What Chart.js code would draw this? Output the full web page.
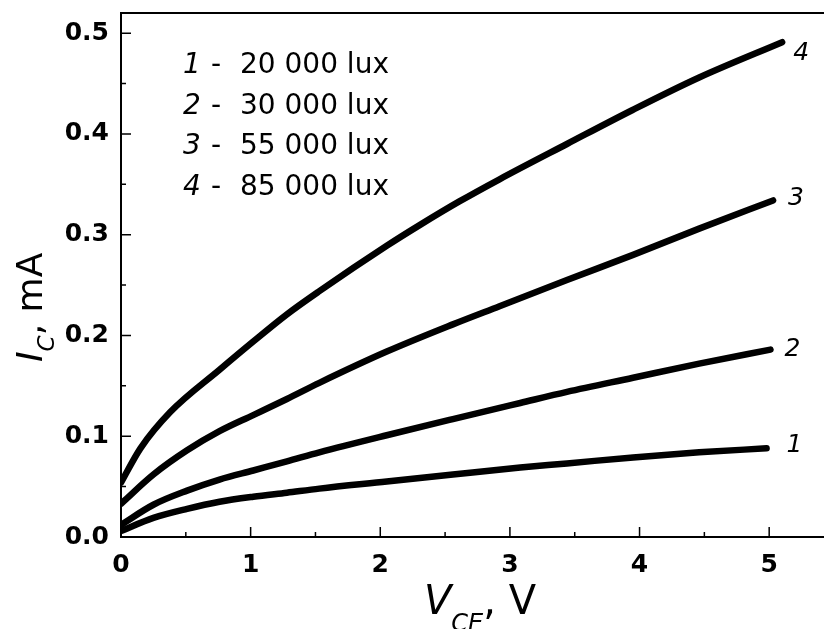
<!DOCTYPE html>
<html>
<head>
<meta charset="utf-8">
<script src="https://cdn.jsdelivr.net/npm/chart.js@4.4.1/dist/chart.umd.min.js"></script>
<style>
    html, body { margin: 0; padding: 0; overflow: hidden; background: #fff; }
</style>
</head>
<body>
<canvas id="ivChart" width="850" height="629"></canvas>
<script>
// curve numbers and the illuminance legend
const curveNames = ['1', '2', '3', '4'];
const luxLabels = ['20 000 lux', '30 000 lux', '55 000 lux', '85 000 lux'];

// V_CE (V) and I_C (mA)
const vce1 = [0, 0.25, 0.51, 0.76, 1.02, 1.28, 1.53, 2.05, 2.56, 3.08, 3.44, 3.95, 4.46, 4.98];
const ic1 = [0.006, 0.019, 0.028, 0.035, 0.040, 0.044, 0.048, 0.055, 0.062, 0.069, 0.073, 0.079, 0.084, 0.088];

const vce2 = [0, 0.25, 0.51, 0.76, 1.02, 1.28, 1.53, 2.05, 2.56, 3.08, 3.44, 3.95, 4.46, 5.01];
const ic2 = [0.012, 0.032, 0.046, 0.057, 0.066, 0.075, 0.084, 0.101, 0.117, 0.133, 0.144, 0.158, 0.172, 0.186];

const vce3 = [0, 0.25, 0.51, 0.76, 1.02, 1.28, 1.53, 2.05, 2.56, 2.92, 3.44, 3.95, 4.46, 5.03];
const ic3 = [0.033, 0.062, 0.086, 0.105, 0.121, 0.137, 0.153, 0.184, 0.211, 0.229, 0.255, 0.280, 0.306, 0.334];

const vce4 = [0, 0.15, 0.38, 0.76, 1.02, 1.28, 1.53, 2.05, 2.31, 2.61, 2.92, 3.44, 3.95, 4.46, 5.10];
const ic4 = [0.054, 0.088, 0.124, 0.166, 0.194, 0.221, 0.244, 0.289, 0.310, 0.333, 0.355, 0.390, 0.424, 0.456, 0.491];

// axis ranges and tick steps (major / minor)
const xRange = [0, 5.5];
const yRange = [0, 0.52];
const xSteps = [1, 0.5];
const ySteps = [0.1, 0.05];

const FONT = "'DejaVu Sans', sans-serif";

function toPoints(xs, ys) {
    return xs.map((v, i) => ({ x: v, y: ys[i] }));
}

function isMajor(value, step) {
    const r = value / step;
    return Math.abs(r - Math.round(r)) < 1e-6;
}

// frame round the plot and inward tick marks
const frameTicks = {
    id: 'frameTicks',
    afterDraw(chart) {
        const ctx = chart.ctx;
        const a = chart.chartArea;
        const x = chart.scales.x;
        const y = chart.scales.y;
        ctx.save();
        ctx.strokeStyle = '#000';
        ctx.lineWidth = 2;
        ctx.strokeRect(a.left, a.top, a.right - a.left, a.bottom - a.top);
        ctx.lineWidth = 1.5;
        ctx.beginPath();
        x.ticks.forEach(t => {
            const px = x.getPixelForValue(t.value);
            const len = isMajor(t.value, xSteps[0]) ? 10 : 5;
            ctx.moveTo(px, a.bottom);
            ctx.lineTo(px, a.bottom - len);
        });
        y.ticks.forEach(t => {
            const py = y.getPixelForValue(t.value);
            const len = isMajor(t.value, ySteps[0]) ? 10 : 5;
            ctx.moveTo(a.left, py);
            ctx.lineTo(a.left + len, py);
        });
        ctx.stroke();
        ctx.restore();
    }
};

// axis titles with italic symbols and subscripts
function drawRun(ctx, parts) {
    let cx = 0;
    parts.forEach(p => {
        ctx.font = p.font;
        ctx.fillText(p.text, cx, p.dy || 0);
        cx += ctx.measureText(p.text).width;
    });
}

const axisTitles = {
    id: 'axisTitles',
    afterDraw(chart) {
        const ctx = chart.ctx;
        const a = chart.chartArea;
        ctx.save();
        ctx.fillStyle = '#000';
        ctx.textBaseline = 'alphabetic';
        ctx.textAlign = 'left';

        ctx.save();
        ctx.translate(a.left + 303, a.bottom + 77);
        drawRun(ctx, [
            { text: 'V', font: 'italic 40px ' + FONT },
            { text: 'CE', font: 'italic 24px ' + FONT, dy: 17 },
            { text: ', V', font: '40px ' + FONT }
        ]);
        ctx.restore();

        ctx.save();
        ctx.translate(a.left - 79, a.top + 349);
        ctx.rotate(-Math.PI / 2);
        drawRun(ctx, [
            { text: 'I', font: 'italic 36px ' + FONT },
            { text: 'C', font: 'italic 23px ' + FONT, dy: 12 },
            { text: ', mA', font: '36px ' + FONT }
        ]);
        ctx.restore();

        // legend block in the upper left
        for (let i = 0; i < curveNames.length; i++) {
            const by = a.top + 60 + i * 40.7;
            ctx.font = 'italic 28px ' + FONT;
            ctx.fillText(curveNames[i], a.left + 62, by);
            ctx.font = '28px ' + FONT;
            ctx.fillText('-', a.left + 90, by);
            ctx.fillText(luxLabels[i], a.left + 119, by);
        }

        // curve numbers next to the last point of each curve
        const offsets = [[20, -3], [14, 0], [15, -2], [11, 11]];
        ctx.font = 'italic 25px ' + FONT;
        ctx.textBaseline = 'middle';
        chart.data.datasets.forEach((ds, i) => {
            const pts = chart.getDatasetMeta(i).data;
            const last = pts[pts.length - 1];
            ctx.fillText(curveNames[i], last.x + offsets[i][0], last.y + offsets[i][1]);
        });
        ctx.restore();
    }
};

function noEdgePadding(scale) {
    scale.paddingTop = 0;
    scale.paddingBottom = 0;
    scale.paddingLeft = 0;
    scale.paddingRight = 0;
}

const series = [toPoints(vce1, ic1), toPoints(vce2, ic2), toPoints(vce3, ic3), toPoints(vce4, ic4)];

new Chart(document.getElementById('ivChart').getContext('2d'), {
    type: 'line',
    data: {
        datasets: series.map((pts, i) => ({
            label: curveNames[i],
            data: pts,
            borderColor: '#000',
            borderWidth: 6.5,
            borderCapStyle: 'round',
            borderJoinStyle: 'round',
            pointRadius: 0,
            cubicInterpolationMode: 'monotone',
            fill: false
        }))
    },
    options: {
        responsive: false,
        animation: false,
        events: [],
        layout: { padding: { left: 65, top: 13, right: 16, bottom: 52 } },
        plugins: {
            legend: { display: false },
            tooltip: { enabled: false }
        },
        scales: {
            x: {
                type: 'linear',
                min: xRange[0],
                max: xRange[1],
                border: { display: false },
                grid: { drawOnChartArea: false, drawTicks: false },
                afterFit(scale) { scale.height = 40; noEdgePadding(scale); },
                ticks: {
                    stepSize: xSteps[1],
                    autoSkip: false,
                    maxRotation: 0,
                    includeBounds: false,
                    padding: 13,
                    color: '#000',
                    font: { family: FONT, size: 25, weight: 'bold' },
                    callback: v => isMajor(v, xSteps[0]) ? String(Math.round(v)) : ''
                }
            },
            y: {
                type: 'linear',
                min: yRange[0],
                max: yRange[1],
                border: { display: false },
                grid: { drawOnChartArea: false, drawTicks: false },
                afterFit(scale) { scale.width = 56; noEdgePadding(scale); },
                ticks: {
                    stepSize: ySteps[1],
                    autoSkip: false,
                    includeBounds: false,
                    padding: 12,
                    color: '#000',
                    font: { family: FONT, size: 25, weight: 'bold' },
                    callback: v => isMajor(v, ySteps[0]) ? v.toFixed(1) : ''
                }
            }
        }
    },
    plugins: [frameTicks, axisTitles]
});
</script>
</body>
</html>
